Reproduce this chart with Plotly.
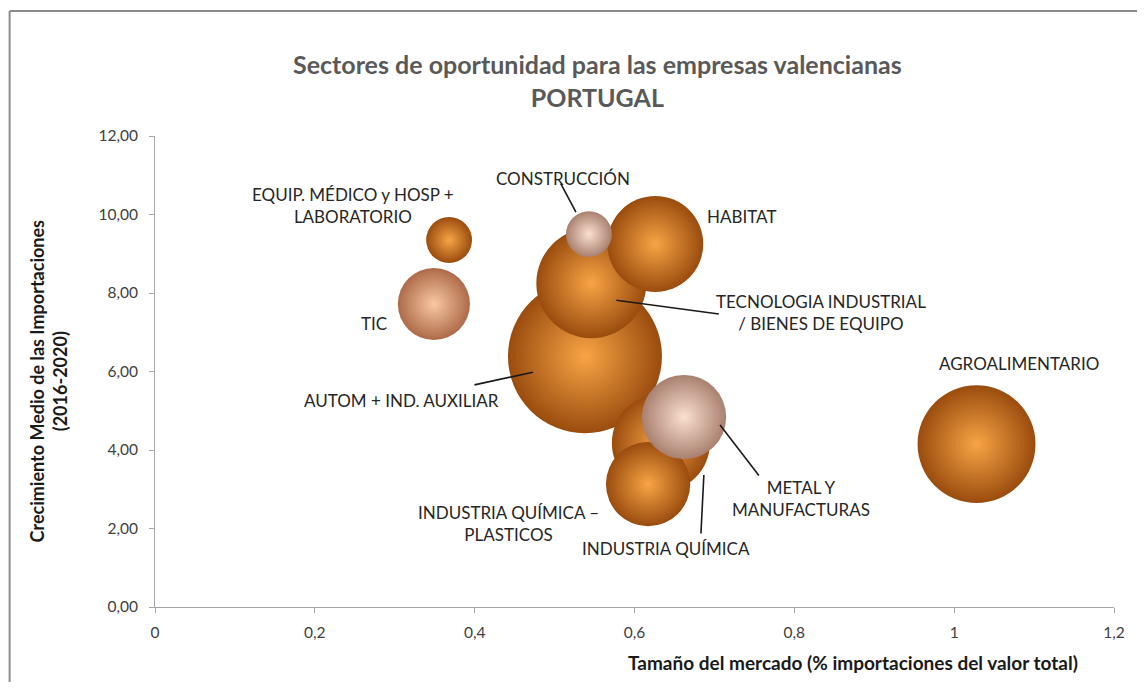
import plotly.graph_objects as go

# ---- data (drawing order: back to front) ----
sectores = ["EQUIP. MÉDICO y HOSP +<br>LABORATORIO", "TIC", "AGROALIMENTARIO",
            "AUTOM + IND. AUXILIAR", "TECNOLOGIA INDUSTRIAL<br>/ BIENES DE EQUIPO",
            "HABITAT", "CONSTRUCCIÓN", "INDUSTRIA QUÍMICA",
            "INDUSTRIA QUÍMICA –<br>PLASTICOS", "METAL Y<br>MANUFACTURAS"]
tamano_mercado = [0.368, 0.349, 1.028, 0.538, 0.546, 0.626, 0.543, 0.633, 0.617, 0.662]
crecimiento = [9.35, 7.72, 4.15, 6.39, 8.25, 9.25, 9.50, 4.18, 3.13, 4.84]
volumen = [21, 52, 139, 237, 121, 92, 21, 96, 71, 71]
tono = ["o", "t", "o", "o", "o", "o", "p", "o", "o", "p"]   # o orange, t peach, p pale

x_ticks = [0, 0.2, 0.4, 0.6, 0.8, 1, 1.2]
y_ticks = [0, 2, 4, 6, 8, 10, 12]

# ---- styling ----
FONT = "Lato, 'Open Sans', sans-serif"
edge = {"o": "#9a4c0e", "t": "#ad6a48", "p": "#a98070"}
center = {"o": "#f8a445", "t": "#f9c8a4", "p": "#fbe0d0"}
MAX_D = 154
sizeref = 2 * max(volumen) / MAX_D ** 2

fig = go.Figure()
fig.add_trace(go.Scatter(
    x=tamano_mercado, y=crecimiento, mode="markers",
    marker=dict(size=volumen, sizemode="area", sizeref=sizeref,
                color=[edge[t] for t in tono],
                gradient=dict(type="radial", color=[center[t] for t in tono]),
                line=dict(width=0), opacity=1),
    hoverinfo="skip", showlegend=False))

# label placement (pixel offsets from each bubble centre)
label_off = {
    0: (-96, 35), 1: (-60, -20), 2: (42, 81), 3: (-183, -44), 4: (230, -29),
    5: (86, 27), 6: (-26, 56), 7: (5, -106), 8: (-140, -39), 9: (117, -81),
}
for i, (dx, dy) in label_off.items():
    fig.add_annotation(x=tamano_mercado[i], y=crecimiento[i], text=sectores[i],
                       showarrow=False, xshift=dx, yshift=dy,
                       xanchor="center", align="center",
                       font=dict(family=FONT, size=17, color="#262626"))

# leader lines: (index, start xshift, start yshift, ax, ay)
leaders = [(6, -13, 22, -16, -30), (4, 25, -17, 104, 14), (3, -52, -16, -60, 13),
           (9, 36, -8, 40, 52), (7, 43, -32, -3, 60)]
for i, sx, sy, ax, ay in leaders:
    fig.add_annotation(x=tamano_mercado[i], y=crecimiento[i], text="",
                       xshift=sx, yshift=sy, ax=ax, ay=ay, showarrow=True,
                       arrowhead=0, arrowwidth=1.6, arrowcolor="#1a1a1a")

# titles
fig.add_annotation(xref="paper", yref="paper", x=0.461, y=1.117,
                   text="<b>Sectores de oportunidad para las empresas valencianas</b><br><b>PORTUGAL</b>",
                   showarrow=False, font=dict(family=FONT, size=25, color="#595959"),
                   xanchor="center", yanchor="middle")
fig.add_annotation(xref="paper", yref="paper", x=-0.111, y=0.478,
                   text="<b>Crecimiento Medio de las Importaciones</b><br><b>(2016-2020)</b>",
                   textangle=-90, showarrow=False,
                   font=dict(family=FONT, size=18, color="#1a1a1a"),
                   xanchor="center", yanchor="middle")
fig.add_annotation(xref="paper", yref="paper", x=0.728, y=-0.117,
                   text="<b>Tamaño del mercado (% importaciones del valor total)</b>",
                   showarrow=False, font=dict(family=FONT, size=19, color="#1a1a1a"),
                   xanchor="center", yanchor="middle")

# outer chart border (only left and top edges fall inside the picture)
border = dict(color="#8c8c8c", width=2)
fig.add_shape(type="line", xref="paper", yref="paper",
              x0=-0.1516, x1=-0.1516, y0=-0.2, y1=1.2654, line=border)
fig.add_shape(type="line", xref="paper", yref="paper",
              x0=-0.1516, x1=1.1, y0=1.2654, y1=1.2654, line=border)

axis_common = dict(showgrid=False, zeroline=False, showline=True, linecolor="#a6a6a6",
                   linewidth=1, ticks="outside", ticklen=5, tickcolor="#a6a6a6",
                   tickfont=dict(family=FONT, size=15.5, color="#404040"))
fig.update_xaxes(range=[0, 1.2], tickvals=x_ticks, ticklabelstandoff=6, **axis_common)
fig.update_yaxes(range=[0, 12], tickvals=y_ticks, tickformat=".2f",
                 ticklabelstandoff=8, **axis_common)

# page body adds an 8px margin on every side, so the figure is drawn 16px smaller
fig.update_layout(width=1129, height=674, separators=",.",
                  margin=dict(l=147, r=19, t=128, b=75),
                  paper_bgcolor="white", plot_bgcolor="white")

fig.write_html("out.html", config={"displayModeBar": False})
